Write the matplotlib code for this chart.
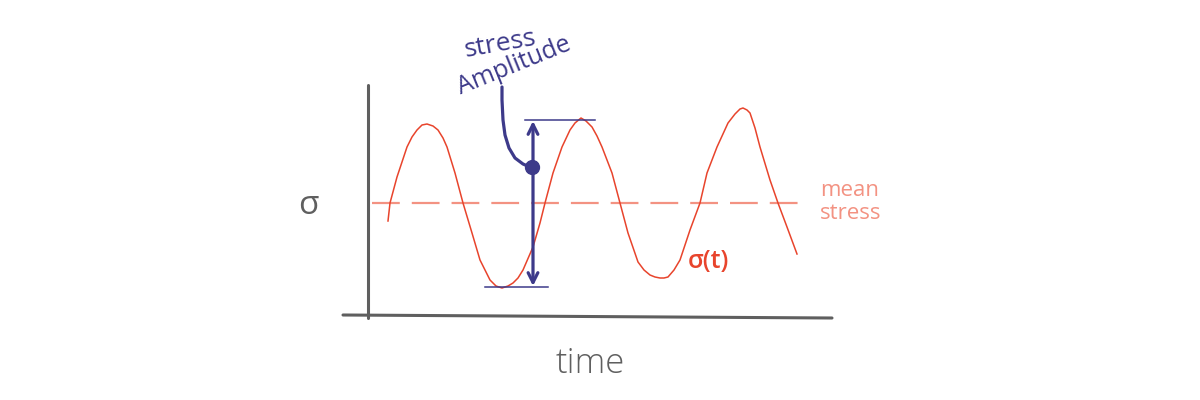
import matplotlib
matplotlib.use("Agg")
import matplotlib.pyplot as plt

# time / stress units (mean stress = 0)
wave_t = [0.45, 0.5, 0.675, 0.925, 1.05, 1.175, 1.3, 1.425, 1.575, 1.7,
          1.825, 1.925, 2.125, 2.325, 2.55, 2.75, 3.0, 3.15, 3.3, 3.45,
          3.575, 3.7, 3.825, 4.075, 4.25, 4.375, 4.575, 4.8, 5.0, 5.125,
          5.275, 5.4, 5.55, 5.675, 5.8, 6.05, 6.25, 6.45, 6.7, 6.85,
          7.0, 7.125, 7.25, 7.35, 7.45, 7.6, 7.75, 8.0, 8.25, 8.425,
          8.675, 8.95, 9.125, 9.25, 9.325, 9.425, 9.5, 9.625, 9.75, 10.0,
          10.2, 10.425, 10.675]
wave_sigma = [-0.9, 0.0, 1.3, 2.8, 3.3, 3.65, 3.9, 3.95, 3.85, 3.65,
              3.25, 2.8, 1.5, 0.0, -1.5, -2.85, -3.85, -4.15, -4.25, -4.15,
              -4.0, -3.75, -3.35, -2.2, -1.0, 0.0, 1.5, 2.8, 3.65, 4.0,
              4.25, 4.1, 3.8, 3.35, 2.8, 1.5, 0.0, -1.5, -2.95, -3.35,
              -3.6, -3.7, -3.75, -3.75, -3.7, -3.35, -2.85, -1.35, 0.0, 1.5,
              2.8, 4.0, 4.45, 4.7, 4.75, 4.65, 4.5, 3.75, 2.8, 1.15,
              0.0, -1.2, -2.55]

mean_stress = 0.0
mean_t = [0.05, 10.85]

amp_top = 4.15
amp_bottom = -4.2
amp_top_t = [3.875, 5.625]
amp_bottom_t = [2.875, 4.45]
arrow_t = 4.075
dot_t, dot_sigma = 4.05, 1.8

leader_t = [3.3, 3.3, 3.325, 3.375, 3.475, 3.625, 3.825, 4.05]
leader_sigma = [5.8, 5.15, 4.15, 3.4, 2.75, 2.25, 1.95, 1.75]

axis_y_t = [-0.05, -0.05]
axis_y_sigma = [5.9, -5.75]
axis_x_t = [-0.675, 11.55]
axis_x_sigma = [-5.6, -5.75]

RED = "#e8442c"
SALMON = "#f39282"
BLUE = "#3d3a8a"
GREY = "#5f5f5f"

fig = plt.figure(figsize=(12, 4), dpi=100)
ax = fig.add_axes([0, 0, 1, 1])
ax.set_xlim(-9.25, 20.75)
ax.set_ylim(-9.85, 10.15)
ax.axis("off")

ax.plot(axis_y_t, axis_y_sigma, color=GREY, lw=2.2, solid_capstyle="round")
ax.plot(axis_x_t, axis_x_sigma, color=GREY, lw=2.2, solid_capstyle="round")

ax.plot(mean_t, [mean_stress, mean_stress], color=SALMON, lw=1.6,
        dashes=(12.5, 5.4))
ax.plot(wave_t, wave_sigma, color=RED, lw=1.1, solid_joinstyle="round")

ax.plot(amp_top_t, [amp_top, amp_top], color=BLUE, lw=1.1)
ax.plot(amp_bottom_t, [amp_bottom, amp_bottom], color=BLUE, lw=1.1)
ax.annotate("", xy=(arrow_t, amp_bottom + 0.05), xytext=(arrow_t, amp_top - 0.05),
            arrowprops=dict(arrowstyle="<->,head_length=0.7,head_width=0.35",
                            color=BLUE, lw=2.3, shrinkA=0, shrinkB=0))
ax.plot(leader_t, leader_sigma, color=BLUE, lw=2.3, solid_capstyle="round")
ax.plot([dot_t], [dot_sigma], "o", color=BLUE, ms=10)

ax.text(-1.55, -0.1, "σ", color=GREY, fontsize=24, family="Open Sans",
        ha="center", va="center")
ax.text(5.5, -8.05, "time", color=GREY, fontsize=25, family="Open Sans",
        weight="light", ha="center", va="center")
ax.text(3.25, 7.95, "stress", color=BLUE, fontsize=19, family="Open Sans",
        rotation=10, ha="center", va="center")
ax.text(3.6, 6.85, "Amplitude", color=BLUE, fontsize=18, family="Open Sans",
        rotation=22, ha="center", va="center")
ax.text(11.25, 0.05, "mean\nstress", color=SALMON, fontsize=16,
        family="Open Sans", ha="left", va="center", linespacing=1.1)
ax.text(8.45, -2.95, "σ(t)", color=RED, fontsize=18, family="Open Sans",
        weight="semibold", ha="center", va="center")

fig.savefig("out.png", dpi=100)
